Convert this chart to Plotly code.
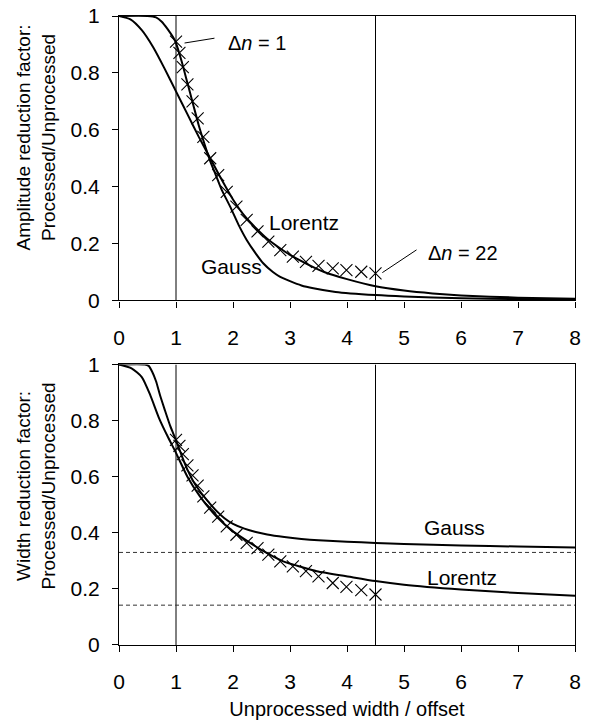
import plotly.graph_objects as go
from plotly.subplots import make_subplots

# ---------------- data ----------------
# Top panel: amplitude reduction factor
amp_gauss_x = [0, 0.5, 0.65, 0.75, 0.85, 0.95, 1.0, 1.1, 1.2, 1.3, 1.4, 1.5, 1.6, 1.7, 1.8,
               1.95, 2.1, 2.24, 2.4, 2.53, 2.7, 2.82, 3.0, 3.2, 3.41, 3.8, 4.5, 5, 6, 7, 8]
amp_gauss_y = [1, 1.0, 0.995, 0.98, 0.955, 0.925, 0.905, 0.84, 0.765, 0.69, 0.615, 0.55, 0.49,
               0.44, 0.39, 0.33, 0.265, 0.213, 0.165, 0.131, 0.1, 0.084, 0.068, 0.053, 0.043,
               0.03, 0.019, 0.014, 0.008, 0.005, 0.003]

amp_lorentz_x = [0, 0.2, 0.4, 0.6, 0.8, 1.0, 1.2, 1.4, 1.6, 1.8, 2.0, 2.2, 2.4, 2.6, 2.8, 3.0,
                 3.3, 3.6, 4.0, 4.5, 5, 5.5, 6, 7, 8]
amp_lorentz_y = [1.0, 0.988, 0.95, 0.89, 0.815, 0.735, 0.655, 0.575, 0.5, 0.425, 0.355, 0.298,
                 0.255, 0.217, 0.187, 0.16, 0.128, 0.1, 0.075, 0.05, 0.035, 0.025, 0.018, 0.01,
                 0.006]

# Processed points (delta n = 1 ... 22)
pts_x = [1.0, 1.06, 1.12, 1.2, 1.29, 1.38, 1.48, 1.6, 1.74, 1.89, 2.06, 2.24, 2.43, 2.62,
         2.83, 3.05, 3.28, 3.5, 3.75, 3.99, 4.25, 4.5]
amp_pts_y = [0.91, 0.87, 0.82, 0.76, 0.70, 0.64, 0.575, 0.50, 0.441, 0.382, 0.33, 0.283,
             0.243, 0.207, 0.177, 0.154, 0.136, 0.122, 0.113, 0.107, 0.101, 0.095]

# Bottom panel: width reduction factor
wid_gauss_x = [0, 0.45, 0.52, 0.58, 0.65, 0.72, 0.8, 0.9, 1.0, 1.1, 1.2, 1.3, 1.42, 1.55,
               1.71, 1.85, 2.0, 2.2, 2.4, 2.6, 2.9, 3.2, 3.5, 4.0, 4.5, 5, 6, 7, 8]
wid_gauss_y = [1, 1.0, 0.995, 0.975, 0.94, 0.89, 0.84, 0.78, 0.73, 0.675, 0.625, 0.585, 0.548,
               0.515, 0.478, 0.452, 0.432, 0.415, 0.403, 0.394, 0.385, 0.378, 0.373, 0.368,
               0.364, 0.36, 0.355, 0.351, 0.348]

wid_lorentz_x = [0, 0.22, 0.4, 0.55, 0.7, 0.85, 1.0, 1.2, 1.42, 1.71, 2.0, 2.3, 2.59, 2.88,
                 3.2, 3.47, 4.05, 4.5, 5, 6, 7, 8]
wid_lorentz_y = [1, 0.986, 0.955, 0.89, 0.81, 0.745, 0.685, 0.6, 0.53, 0.458, 0.405, 0.364,
                 0.328, 0.298, 0.278, 0.263, 0.243, 0.228, 0.215, 0.198, 0.185, 0.176]

wid_pts_y = [0.731, 0.71, 0.68, 0.64, 0.605, 0.568, 0.53, 0.49, 0.458, 0.423, 0.393, 0.364,
             0.345, 0.322, 0.298, 0.28, 0.263, 0.245, 0.221, 0.207, 0.196, 0.18]

limit_levels = [0.33, 0.142]
marker_lines_x = [1, 4.5]

x_ticks = [0, 1, 2, 3, 4, 5, 6, 7, 8]
y_ticks = [0, 0.2, 0.4, 0.6, 0.8, 1]

FONT = "Liberation Sans, Arial, Helvetica, sans-serif"
FS = 20
TFS = 21

fig = make_subplots(rows=2, cols=1, vertical_spacing=0.1)

curve_style = dict(color="black", width=2, shape="spline", smoothing=0.6)
for row, (gx, gy, lx, ly, py) in enumerate([
        (amp_gauss_x, amp_gauss_y, amp_lorentz_x, amp_lorentz_y, amp_pts_y),
        (wid_gauss_x, wid_gauss_y, wid_lorentz_x, wid_lorentz_y, wid_pts_y)], start=1):
    fig.add_trace(go.Scatter(x=gx, y=gy, mode="lines", line=curve_style,
                             showlegend=False, hoverinfo="skip"), row=row, col=1)
    fig.add_trace(go.Scatter(x=lx, y=ly, mode="lines", line=curve_style,
                             showlegend=False, hoverinfo="skip"), row=row, col=1)
    fig.add_trace(go.Scatter(x=pts_x, y=py, mode="markers",
                             marker=dict(symbol="x-thin-open", size=12, color="black",
                                         line=dict(color="black", width=1.1)),
                             showlegend=False), row=row, col=1)
    sfx = "" if row == 1 else str(row)
    for xv in marker_lines_x:
        fig.add_shape(type="line", x0=xv, x1=xv, y0=0, y1=1, xref=f"x{sfx}", yref=f"y{sfx}",
                      line=dict(color="black", width=1), layer="below")

for lv in limit_levels:
    fig.add_shape(type="line", x0=0, x1=8, y0=lv, y1=lv, xref="x2", yref="y2",
                  line=dict(color="#333333", width=1, dash="4px,3px"), layer="below")

axis_common = dict(range=[0, 8], tickvals=x_ticks, ticks="outside", ticklen=6,
                   tickcolor="black", tickwidth=1, showline=True, linecolor="black",
                   linewidth=1.2, mirror=True, showgrid=False, zeroline=False,
                   tickfont=dict(family=FONT, size=TFS, color="black"),
                   ticklabelstandoff=12, automargin=False)
yaxis_common = dict(range=[0, 1], tickvals=y_ticks, ticks="outside", ticklen=6,
                    tickcolor="black", tickwidth=1, showline=True, linecolor="black",
                    linewidth=1.2, mirror=True, showgrid=False, zeroline=False,
                    tickfont=dict(family=FONT, size=TFS, color="black"),
                    ticklabelstandoff=8, automargin=False)

fig.update_xaxes(**axis_common)
fig.update_yaxes(**yaxis_common)

fig.update_layout(
    width=600, height=727,
    margin=dict(l=119, r=25, t=16, b=82),
    paper_bgcolor="white", plot_bgcolor="white",
    font=dict(family=FONT, size=FS, color="black"),
    xaxis=dict(domain=[0, 1]),
    yaxis=dict(domain=[0.5477, 1]),
    yaxis2=dict(domain=[0, 0.446]),
    xaxis2=dict(title=dict(text="Unprocessed width / offset",
                           font=dict(family=FONT, size=FS, color="black"), standoff=9)),
)

ann = []
ann.append(dict(text="Amplitude reduction factor:<br>Processed/Unprocessed", textangle=-90,
                xref="paper", yref="paper", x=-0.181, y=0.8076, showarrow=False,
                xanchor="center", yanchor="middle", font=dict(size=19)))
ann.append(dict(text="Width reduction factor:<br>Processed/Unprocessed", textangle=-90,
                xref="paper", yref="paper", x=-0.181, y=0.2528, showarrow=False,
                xanchor="center", yanchor="middle", font=dict(size=19)))
ann.append(dict(text="Δ<i>n</i> = 1", xref="x", yref="y", x=1.87, y=0.905,
                showarrow=False, xanchor="left", yanchor="middle", font=dict(size=FS)))
ann.append(dict(text="Δ<i>n</i> = 22", xref="x", yref="y", x=5.39, y=0.167,
                showarrow=False, xanchor="left", yanchor="middle", font=dict(size=FS)))
ann.append(dict(text="Lorentz", xref="x", yref="y", x=2.6, y=0.273,
                showarrow=False, xanchor="left", yanchor="middle", font=dict(size=21)))
ann.append(dict(text="Gauss", xref="x", yref="y", x=1.4, y=0.119,
                showarrow=False, xanchor="left", yanchor="middle", font=dict(size=21)))
ann.append(dict(text="Gauss", xref="x2", yref="y2", x=5.32, y=0.418,
                showarrow=False, xanchor="left", yanchor="middle", font=dict(size=21)))
ann.append(dict(text="Lorentz", xref="x2", yref="y2", x=5.37, y=0.24,
                showarrow=False, xanchor="left", yanchor="middle", font=dict(size=21)))
fig.update_layout(annotations=ann)

# leader lines for the delta-n labels
fig.add_shape(type="line", x0=1.15, y0=0.905, x1=1.675, y1=0.922, xref="x", yref="y",
              line=dict(color="black", width=1))
fig.add_shape(type="line", x0=4.62, y0=0.098, x1=5.22, y1=0.178, xref="x", yref="y",
              line=dict(color="black", width=1))

# remove the default 8px page margin so the figure sits at the window origin
fig.write_html("out.html", config={"displayModeBar": False},
               post_script="document.body.style.margin='0';")
